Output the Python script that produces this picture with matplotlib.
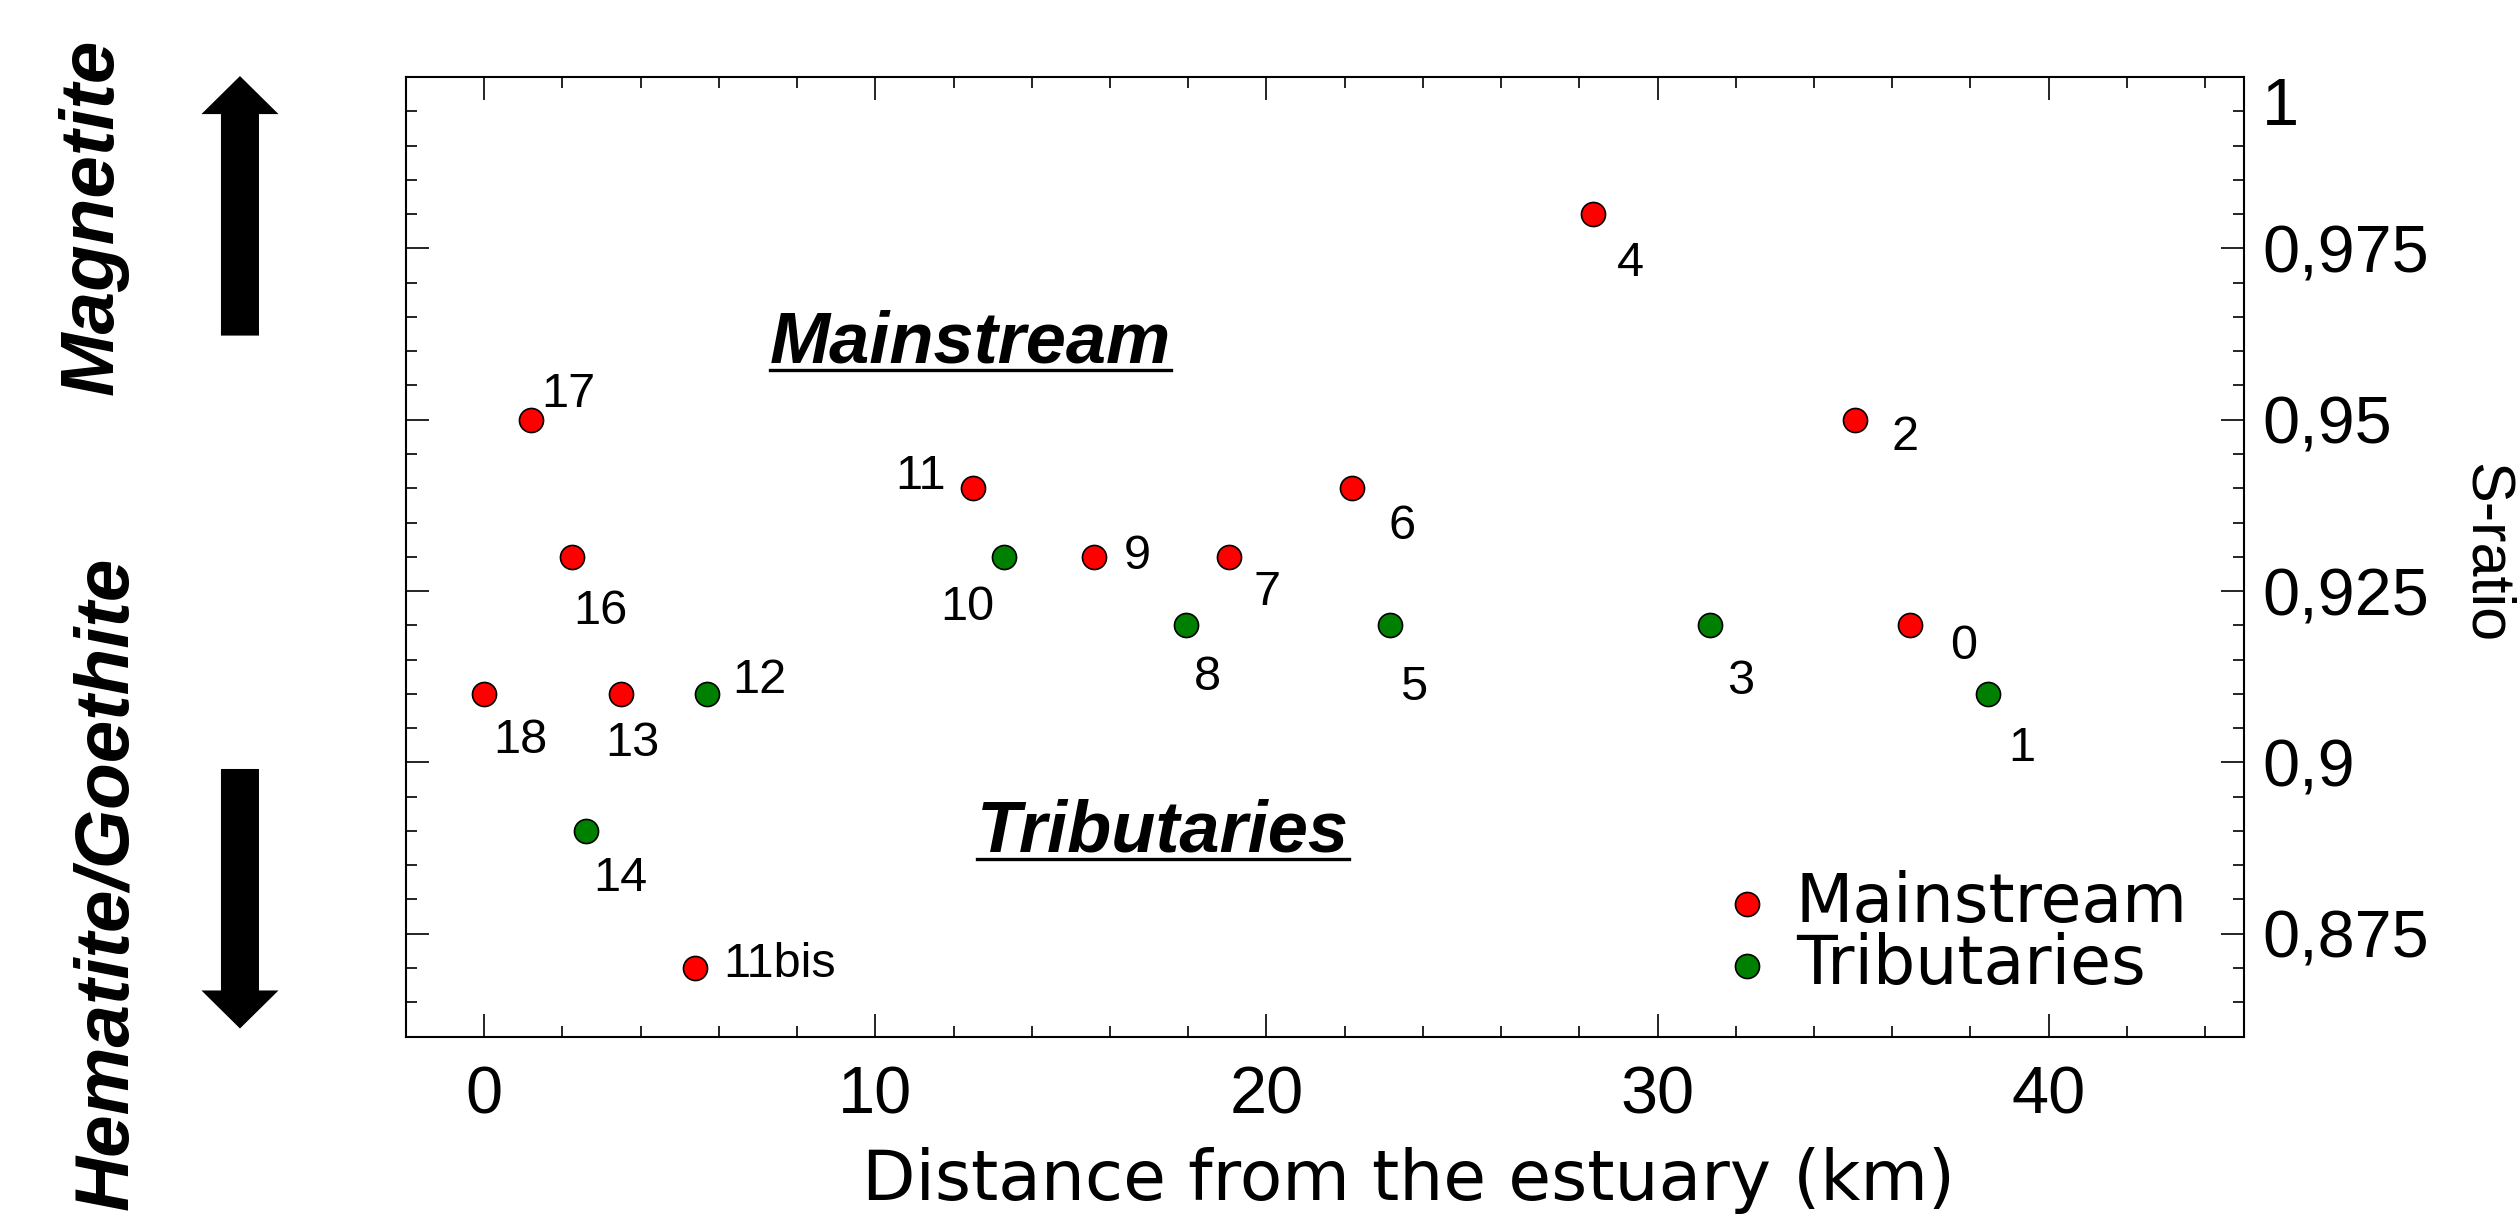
import matplotlib
matplotlib.use("Agg")
import matplotlib.pyplot as plt
from matplotlib.patches import FancyArrow
from matplotlib.lines import Line2D
from matplotlib.ticker import MultipleLocator

# sampling sites: distance from the estuary (km) and S-ratio
main_ids = ["0", "2", "4", "6", "7", "9", "11", "11bis", "13", "16", "17", "18"]
main_km = [36.45, 35.05, 28.35, 22.2, 19.05, 15.6, 12.5, 5.4, 3.5, 2.25, 1.2, 0.0]
main_s = [0.92, 0.95, 0.98, 0.94, 0.93, 0.93, 0.94, 0.87, 0.91, 0.93, 0.95, 0.91]

trib_ids = ["1", "3", "5", "8", "10", "12", "14"]
trib_km = [38.45, 31.35, 23.15, 17.95, 13.3, 5.7, 2.6]
trib_s = [0.91, 0.92, 0.92, 0.92, 0.93, 0.91, 0.89]

x_ticks = [0, 10, 20, 30, 40]
y_ticks = [0.875, 0.9, 0.925, 0.95, 0.975, 1.0]
y_ticklabels = ["0,875", "0,9", "0,925", "0,95", "0,975", "1"]

# label placement (points from the marker centre)
label_offset = {
    "0": (39, -15.5), "2": (36, -12.5), "4": (27, -35.5), "6": (36, -27.5),
    "7": (27, -25.5), "9": (31, 0.5), "11": (-38, 8.5), "11bis": (20, 2.5),
    "13": (8, -35.5), "16": (20, -39.5), "17": (27, 18.5), "18": (26, -33.5),
    "1": (24, -39.5), "3": (22, -40.5), "5": (17, -44.5), "8": (15, -37.5),
    "10": (-27, -36.5), "12": (38, 9.5), "14": (25, -34.5),
}

ARIAL = "Liberation Sans"
RED, GREEN = "#ff0000", "#008000"

fig = plt.figure(figsize=(25.18, 12.15), dpi=100)
ax = fig.add_axes([0.1612, 0.1469, 0.7301, 0.7897])

ax.scatter(main_km, main_s, s=300, color=RED, edgecolors="black", linewidths=1.2,
           label="Mainstream", zorder=3)
ax.scatter(trib_km, trib_s, s=300, color=GREEN, edgecolors="black", linewidths=1.2,
           label="Tributaries", zorder=3)

for ids, xs, ys in ((main_ids, main_km, main_s), (trib_ids, trib_km, trib_s)):
    for name, x, y in zip(ids, xs, ys):
        ax.annotate(name, (x, y), xytext=label_offset[name], textcoords="offset points",
                    ha="left" if name == "11bis" else "center", va="center",
                    fontsize=35, family=ARIAL)

ax.set_xlim(-2, 45)
ax.set_ylim(0.86, 1.0)
ax.set_xticks(x_ticks)
ax.set_xticklabels([str(t) for t in x_ticks], fontsize=48, family=ARIAL)
ax.set_yticks(y_ticks)
ax.set_yticklabels(y_ticklabels, fontsize=48, family=ARIAL)
ax.xaxis.set_minor_locator(MultipleLocator(2))
ax.yaxis.set_minor_locator(MultipleLocator(0.005))
ax.tick_params(which="both", direction="in", top=True, bottom=True, left=True, right=True,
               labelleft=False, labelright=True, width=1.2)
ax.tick_params(which="major", length=16.5)
ax.tick_params(which="minor", length=8)
ax.tick_params(axis="x", pad=21)
ax.tick_params(axis="y", pad=13)
for sp in ax.spines.values():
    sp.set_linewidth(1.5)
ax.yaxis.get_major_ticks()[-1].label2.set_va("top")

ax.legend(loc="center", bbox_to_anchor=(0.776, 0.2313), bbox_transform=fig.transFigure,
          frameon=False, prop={"family": "DejaVu Sans", "size": 48}, handlelength=0.8,
          handletextpad=0.34, labelspacing=-0.06, borderpad=0, scatterpoints=1)

fig.text(0.5592, 0.0123, "Distance from the estuary (km)", ha="center", va="baseline",
         fontsize=50, family="DejaVu Sans")
fig.text(0.9871, 0.5444, "S-ratio", rotation=270, ha="center", va="center",
         fontsize=44, family=ARIAL)

# in-plot group names, underlined
titles = [
    ax.text(12.44, 0.9584, "Mainstream", ha="center", va="baseline", fontsize=52,
            family=ARIAL, weight="bold", style="italic"),
    ax.text(17.35, 0.887, "Tributaries", ha="center", va="baseline", fontsize=52,
            family=ARIAL, weight="bold", style="italic"),
]
renderer = fig.canvas.get_renderer()
for t in titles:
    bb = t.get_window_extent(renderer)
    base = ax.transData.transform((0, t.get_position()[1]))[1]
    y_line = (base - 8) / fig.bbox.height
    fig.add_artist(Line2D([bb.x0 / fig.bbox.width, bb.x1 / fig.bbox.width], [y_line, y_line],
                          color="black", lw=2.4, transform=fig.transFigure))

# mineralogy arrows on the left
arrow_kw = dict(width=0.0151, head_width=0.0306, head_length=0.0313, length_includes_head=True,
                color="black", lw=0, transform=fig.transFigure)
fig.add_artist(FancyArrow(0.0953, 0.7238, 0, 0.2136, **arrow_kw))
fig.add_artist(FancyArrow(0.0953, 0.3671, 0, -0.2136, **arrow_kw))
fig.text(0.0449, 0.8214, "Magnetite", rotation=90, rotation_mode="anchor", ha="center",
         va="baseline", fontsize=55, family=ARIAL, weight="bold", style="italic")
fig.text(0.0504, 0.2728, "Hematite/Goethite", rotation=90, rotation_mode="anchor", ha="center",
         va="baseline", fontsize=55, family=ARIAL, weight="bold", style="italic")

fig.savefig("out.png", dpi=100)
